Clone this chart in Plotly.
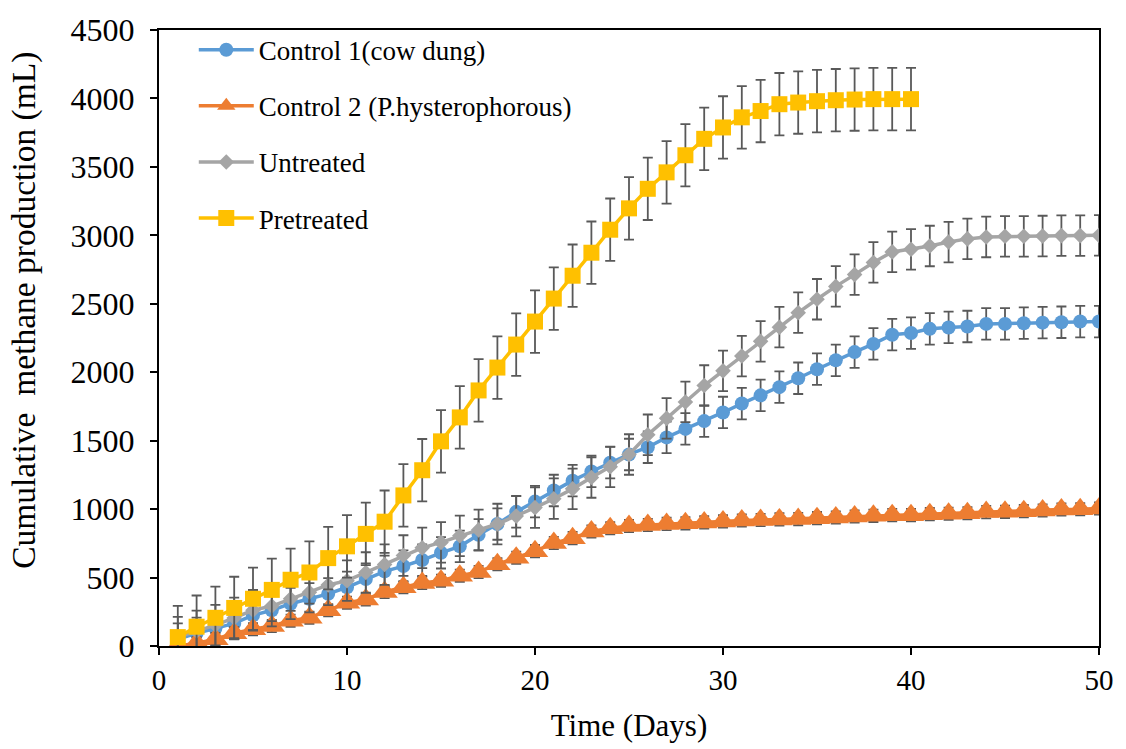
import plotly.graph_objects as go

# Sampling days
days = list(range(1, 51))
days_pretreated = list(range(1, 41))

# Cumulative methane production (mL)
control1 = [50, 93, 129, 165, 225, 261, 309, 345, 381, 429,
            489, 545, 584, 628, 681, 728, 812, 891, 980, 1055,
            1136, 1208, 1275, 1339, 1399, 1452, 1524, 1586, 1643, 1706,
            1771, 1831, 1891, 1956, 2022, 2087, 2147, 2207, 2274, 2286,
            2317, 2327, 2334, 2353, 2353, 2358, 2362, 2365, 2370, 2370]

control2 = [0, 20, 50, 93, 122, 146, 184, 206, 261, 316,
            340, 395, 429, 460, 477, 513, 541, 597, 645, 693,
            752, 788, 836, 860, 877, 884, 892, 896, 903, 910,
            917, 920, 925, 927, 934, 939, 946, 951, 956, 956,
            963, 966, 970, 978, 980, 985, 990, 997, 999, 1004]

untreated = [65, 110, 153, 205, 261, 292, 345, 393, 446, 477,
             537, 595, 661, 717, 757, 805, 848, 891, 949, 1011,
             1076, 1148, 1231, 1309, 1399, 1543, 1663, 1783, 1903, 2010,
             2118, 2226, 2329, 2435, 2533, 2627, 2713, 2802, 2879, 2898,
             2922, 2951, 2974, 2988, 2993, 2993, 2995, 2998, 2998, 3000]

pretreated = [65, 141, 206, 278, 345, 410, 484, 537, 642, 728,
              819, 908, 1100, 1284, 1495, 1670, 1867, 2034, 2202, 2370,
              2538, 2705, 2873, 3041, 3197, 3340, 3460, 3585, 3705, 3788,
              3862, 3908, 3958, 3970, 3980, 3987, 3992, 3995, 3995, 3995]

# Error bar half-widths (mL) for each series
err_control1 = 115
err_control2 = 45
err_untreated = 148
err_pretreated = 228

series = [
    ("Control 1(cow dung)", days, control1, err_control1, "#5B9BD5", "circle", 14),
    ("Control 2 (P.hysterophorous)", days, control2, err_control2, "#ED7D31", "triangle-up", 23),
    ("Untreated", days, untreated, err_untreated, "#A5A5A5", "diamond", 12),
    ("Pretreated", days_pretreated, pretreated, err_pretreated, "#FFC000", "square", 16),
]

FONT = "Liberation Serif"

fig = go.Figure()
for i, (name, x, y, err, color, symbol, size) in enumerate(series):
    fig.add_trace(go.Scatter(
        x=x, y=y, name=name, mode="lines+markers",
        legendgroup=f"g{i}",
        line=dict(color=color, width=3.5),
        marker=dict(symbol=symbol, size=size, color=color, line=dict(width=0)),
        error_y=dict(type="constant", value=err, color="#595959",
                     thickness=1.8, width=5),
    ))

# Vertical axis title placed as an annotation beside the tick labels
fig.add_annotation(
    text="Cumulative  methane production (mL)",
    xref="paper", yref="paper", x=-0.143, y=0.545,
    xanchor="center", yanchor="middle", textangle=-90, showarrow=False,
    font=dict(family=FONT, size=33.5, color="black"),
)

fig.update_layout(
    width=1126, height=749,
    margin=dict(l=159, r=24, t=22, b=101),
    paper_bgcolor="white", plot_bgcolor="white",
    font=dict(family=FONT, color="black", size=28),
    showlegend=True,
    legend=dict(
        x=0.037, y=1.007, xanchor="left", yanchor="top",
        bgcolor="rgba(0,0,0,0)", borderwidth=0,
        font=dict(family=FONT, size=27, color="black"),
        tracegroupgap=18, itemwidth=55,
    ),
    xaxis=dict(
        range=[0, 50], tickvals=[0, 10, 20, 30, 40, 50],
        showgrid=False, zeroline=False,
        showline=True, linecolor="black", linewidth=2, mirror=True,
        ticks="outside", ticklen=7, tickwidth=1.5, tickcolor="black",
        tickfont=dict(family=FONT, size=29),
        title=dict(text="Time (Days)", font=dict(family=FONT, size=31), standoff=20),
    ),
    yaxis=dict(
        range=[0, 4500], tickvals=list(range(0, 4501, 500)),
        showgrid=False, zeroline=False,
        showline=True, linecolor="black", linewidth=2, mirror=True,
        ticks="outside", ticklen=7, tickwidth=1.5, tickcolor="black",
        ticklabelstandoff=9,
        tickfont=dict(family=FONT, size=32),
    ),
)

fig.write_html("out.html")
